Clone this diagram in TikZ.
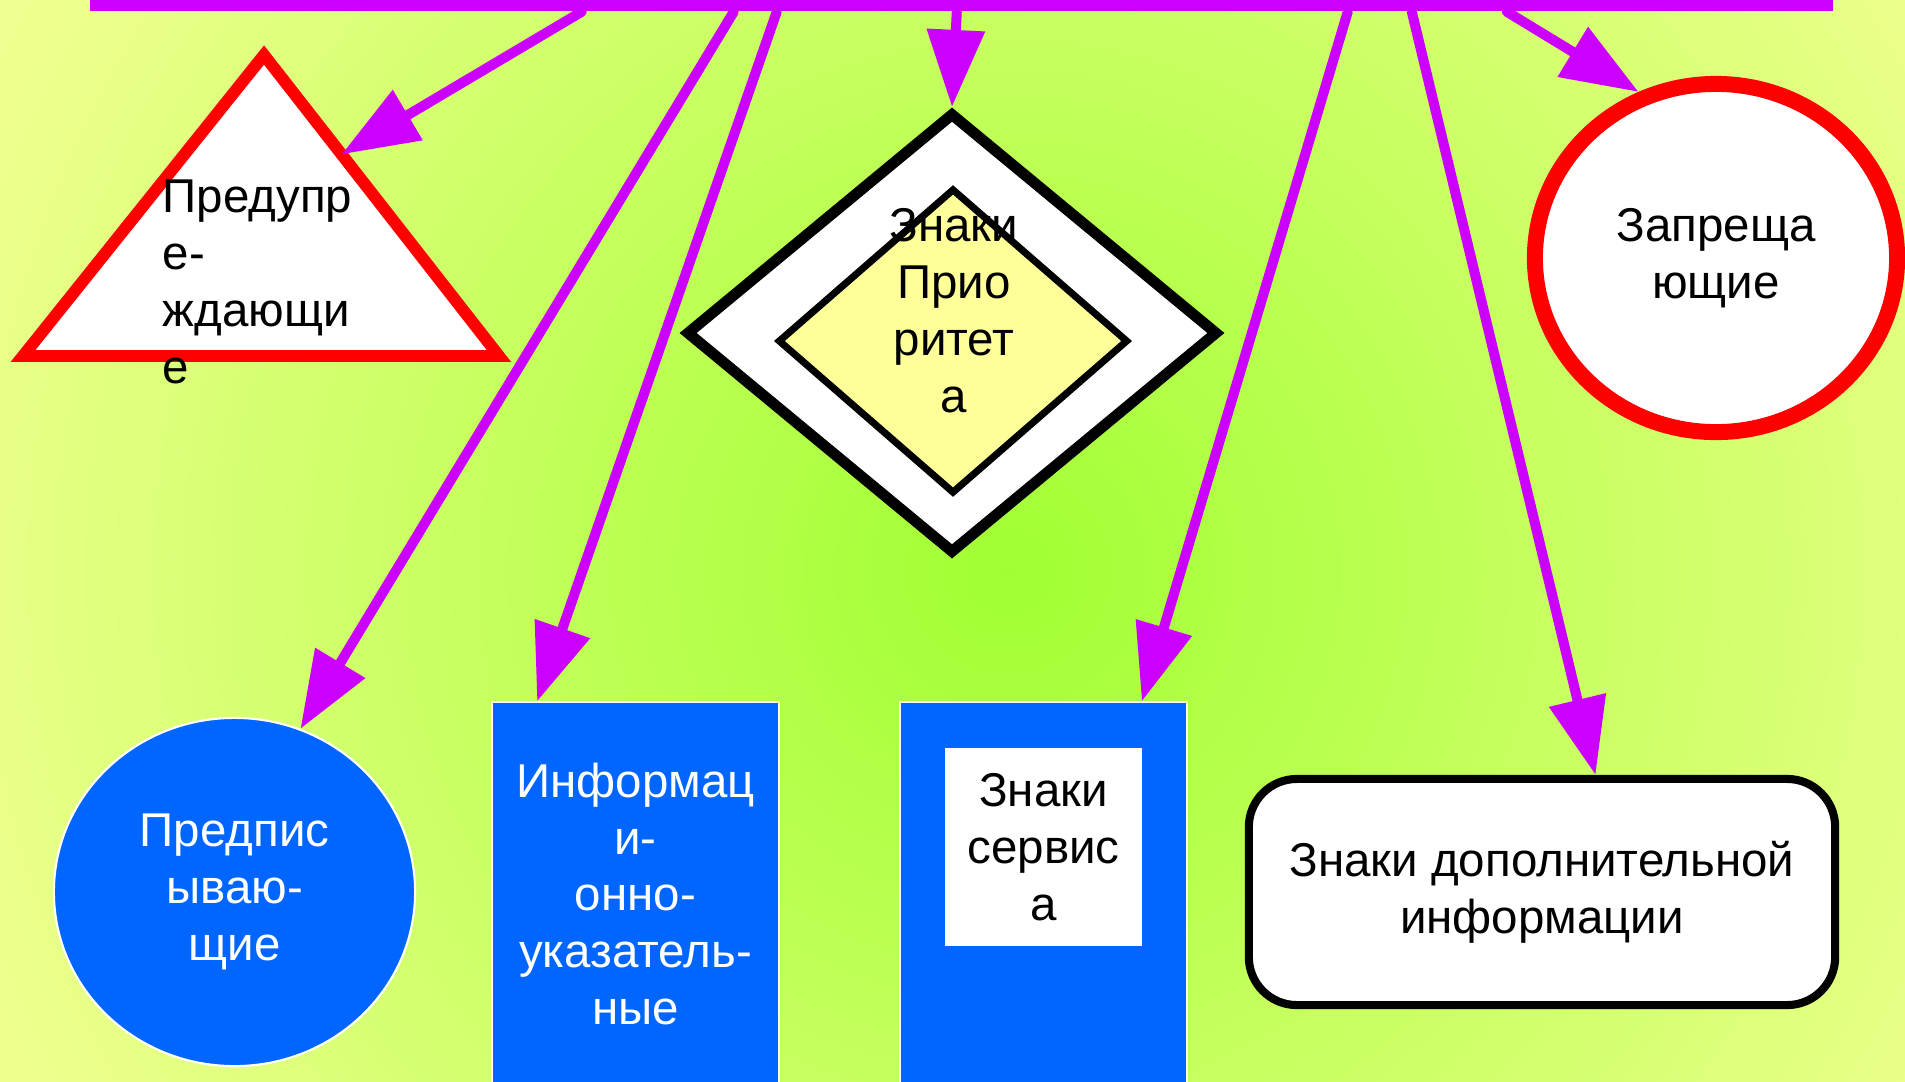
\documentclass[tikz,border=0pt]{standalone}
\usepackage{fontspec}
\setmainfont{Liberation Sans}
\usepackage{xcolor}
\usepackage{tikz}
\usetikzlibrary{shapes.geometric, arrows.meta, calc}
\definecolor{signpurple}{RGB}{204,0,255}
\definecolor{signblue}{RGB}{0,102,255}
\definecolor{signred}{RGB}{255,0,0}
\definecolor{signyellow}{RGB}{255,255,153}
\definecolor{bgin}{RGB}{160,255,50}
\definecolor{bgout}{RGB}{245,255,150}
\tikzstyle{arrow} = [line width=2.85pt,signpurple,-{Triangle[length=0.77cm,width=0.56cm]}]
\tikzstyle{txt} = [font=\fontsize{13.5}{16.2}\selectfont,align=center,inner sep=0pt]
\tikzstyle{bar} = [rectangle,fill=signpurple,inner sep=0pt,minimum width=17.41cm,minimum height=0.11cm]
\tikzstyle{warnsign} = [draw=signred,fill=white,line width=3.4pt]
\tikzstyle{outerdia} = [diamond,draw=black,fill=white,line width=3.1pt,inner sep=0pt,minimum width=5.32cm,minimum height=4.41cm]
\tikzstyle{innerdia} = [diamond,draw=black,fill=signyellow,line width=2pt,inner sep=0pt,minimum width=3.5cm,minimum height=3.05cm]
\tikzstyle{redcircle} = [txt,ellipse,draw=signred,fill=white,line width=4.55pt,minimum width=3.62cm,minimum height=3.48cm]
\tikzstyle{bluecircle} = [txt,ellipse,draw=white,fill=signblue,text=white,line width=0.6pt,minimum width=3.61cm,minimum height=3.48cm]
\tikzstyle{bluebox} = [txt,rectangle,draw=white,fill=signblue,text=white,line width=0.6pt,minimum width=2.87cm,minimum height=3.83cm]
\tikzstyle{servbox} = [txt,rectangle,fill=white,minimum width=1.97cm,minimum height=1.98cm]
\tikzstyle{extrabox} = [txt,rectangle,rounded corners=0.48cm,draw=black,fill=white,line width=2.3pt,minimum width=5.86cm,minimum height=2.26cm]

\begin{document}
\begin{tikzpicture}[line cap=round,x=0.01cm,y=-0.01cm]
    \useasboundingbox (0,0) rectangle (1905,1081);
    \begin{scope}
        \clip (0,0) rectangle (1905,1081);
        \shade[inner color=bgin,outer color=bgout] (-192,-629) rectangle (2208,1771);
    \end{scope}
    \node[bar] (bar) at (961.5,5.5) {};

    \coordinate (ta) at (264,55);
    \coordinate (tl) at (23,356);
    \coordinate (tr) at (499,356);
    \draw[warnsign] (ta) -- (tl) -- (tr) -- cycle;
    \node[txt,align=left,anchor=west] (warn) at (162,282) {Предупр\\е-\\ждающи\\е};

    \node[outerdia] (prio) at (952,333) {};
    \node[innerdia] (prioin) at (953,341) {};
    \node[txt] (priotext) at (954,311) {Знаки\\Прио\\ритет\\а};

    \node[redcircle] (proh) at (1716,258) {Запреща\\ющие};
    \node[bluecircle] (presc) at (234.5,892) {Предпис\\ываю-\\щие};
    \node[bluebox] (info) at (635.5,894) {Информац\\и-\\онно-\\указатель-\\ные};
    \node[bluebox] (serv) at (1043.5,894) {};
    \node[servbox] (servtext) at (1043.5,847) {Знаки\\сервис\\а};
    \node[extrabox] (extra) at (1542,892) {Знаки дополнительной\\информации};

    \draw[arrow] ($(bar.south west)+(492,0)$) -- ($(ta)!0.33!(tr)$);
    \draw[arrow] ($(bar.south west)+(644,0)$) -- (presc.68);
    \draw[arrow] ($(bar.south west)+(687,0)$) -- ($(info.north west)!0.16!(info.north east)$);
    \draw[arrow] ($(bar.south west)+(867,0)$) -- (prio.north);
    \draw[arrow] ($(bar.south west)+(1258,0)$) -- ($(serv.north west)!0.84!(serv.north east)$);
    \draw[arrow] ($(bar.south west)+(1322,0)$) -- ($(extra.north west)!0.59!(extra.north east)$);
    \draw[arrow] ($(bar.south west)+(1417,0)$) -- (proh.115);
\end{tikzpicture}
\end{document}
